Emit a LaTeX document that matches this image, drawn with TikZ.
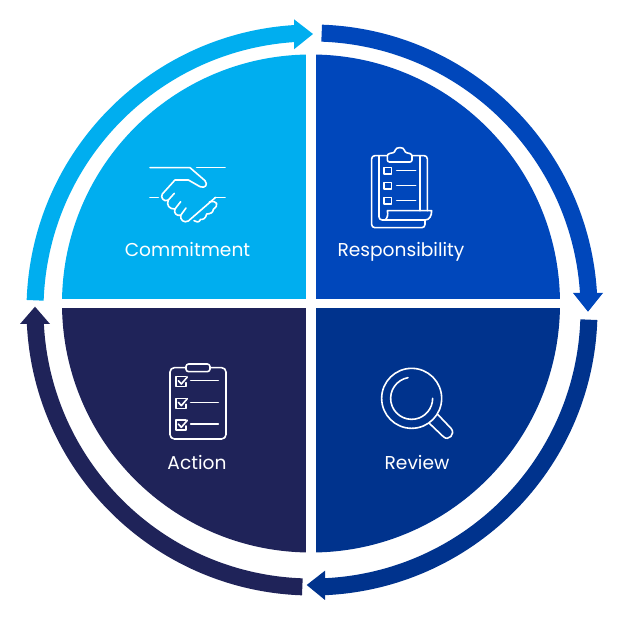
\documentclass[tikz,border=0pt]{standalone}
\usepackage{fontspec}
\setmainfont{Poppins}
\definecolor{commitcol}{HTML}{00AEEF}
\definecolor{respcol}{HTML}{0047BB}
\definecolor{reviewcol}{HTML}{00338D}
\definecolor{actioncol}{HTML}{1F2359}
\tikzset{
  ring/.style={line width=0.34cm},
  iconline/.style={draw=white, line width=0.032cm, line join=round, line cap=round, x=0.00667cm, y=-0.00667cm},
  caption/.style={text=white, font=\fontsize{10.6pt}{12pt}\selectfont, inner sep=0pt, anchor=base}
}
\begin{document}
\begin{tikzpicture}[x=0.02cm, y=0.02cm]
\useasboundingbox (0,0) rectangle (620,620);

% Outer arrows
\draw[ring, commitcol] (312,310) ++(178:277) arc (178:93:277);
\fill[commitcol] (313,586) -- (294,600.7) -- (294,570.7) -- cycle;
\draw[ring, respcol] (312,310) ++(88:277) arc (88:3:277);
\fill[respcol] (588,308.3) -- (603,327) -- (573,327) -- cycle;
\draw[ring, reviewcol] (312,310) ++(-2:277) arc (-2:-88:277);
\fill[reviewcol] (306.7,35) -- (325,49.3) -- (325,20) -- cycle;
\draw[ring, actioncol] (312,310) ++(-92:277) arc (-92:-177.5:277);
\fill[actioncol] (35,313.3) -- (20,296) -- (50,296) -- cycle;

% Quarters
\begin{scope}
  \clip (311,316.5) circle (249);
  \fill[commitcol] (50,321) rectangle (306,570);
  \fill[respcol] (316,321) rectangle (570,570);
  \fill[reviewcol] (316,312) rectangle (570,60);
  \fill[actioncol] (50,312) rectangle (306,60);
\end{scope}

% Labels
\node[caption] (commitment) at (187.5,363) {Commitment};
\node[caption] (responsibility) at (401,363) {Responsibility};
\node[caption] (review) at (417,151) {Review};
\node[caption] (action) at (197,151) {Action};

% Handshake
\begin{scope}[shift={(130,480)}, iconline]
  \draw (60,83) -- (180,83) -- (225,122) .. controls (235,135) and (225,146) .. (210,140)
        -- (175,120) -- (135,120) -- (97,162) .. controls (90,172) and (102,188) .. (115,180)
        -- (133,160); % upper hand
  \draw (200,83) -- (285,83);
  \draw (60,172) -- (85,172);
  \draw (255,172) -- (285,172);
  \draw (115,180) .. controls (108,195) and (118,208) .. (135,207) -- (152,185); % finger
  \draw (135,207) .. controls (130,220) and (140,228) .. (152,226) -- (168,204); % finger
  \draw (152,226) .. controls (150,240) and (162,250) .. (175,243) -- (257,172); % lower hand
  \draw (238,186) .. controls (262,180) and (268,195) .. (250,208) .. controls (250,218) and (240,222) .. (230,222)
        .. controls (228,235) and (218,240) .. (212,238) .. controls (208,248) and (198,248) .. (192,242); % knuckles
\end{scope}

% Clipboard with paper
\begin{scope}[shift={(330,480)}, iconline]
  \draw[rounded corners=1.8pt] (170,47) -- (125,47) -- (125,263) -- (285,263) -- (285,240);
  \draw[rounded corners=1.8pt] (147,47) -- (147,240) -- (175,240);
  \draw[rounded corners=1.8pt] (245,47) -- (292,47) -- (292,212);
  \draw (270,47) -- (270,212);
  \draw (172,212) -- (305,212) .. controls (305,228) and (298,240) .. (285,240) -- (165,240)
        .. controls (172,235) and (175,225) .. (172,212); % curl
  \draw[rounded corners=1.2pt] (172,66) -- (172,42) -- (195,37) .. controls (197,20) and (222,20) .. (224,37)
        -- (246,42) -- (246,66) -- cycle; % tab
  \foreach \ypos in {82,127,172} {
    \draw (162,\ypos) rectangle ++(23,20);
    \draw (200,\ypos+10) -- (257,\ypos+10);
  }
\end{scope}

% Magnifier
\begin{scope}[shift={(370,260)}, iconline]
  \draw (125,115) circle (90);
  \draw (114,53) arc (-100:-360:63);
  \draw (203,163) -- (243,205) .. controls (258,222) and (235,245) .. (220,230) -- (178,190);
\end{scope}

% Clipboard with ticks
\begin{scope}[shift={(150,265)}, iconline]
  \draw[rounded corners=2.5pt] (108,38) -- (60,38) -- (60,252) -- (228,252) -- (228,38) -- (180,38);
  \draw[rounded corners=1.5pt] (108,27) rectangle (180,50);
  \foreach \ypos in {65,130,195} {
    \draw (108,\ypos) -- (78,\ypos) -- (78,\ypos+30) -- (108,\ypos+30) -- (108,\ypos+18);
    \draw (85,\ypos+12) -- (94,\ypos+22) -- (112,\ypos+1);
    \draw (122,\ypos+12) -- (205,\ypos+12);
  }
\end{scope}

\end{tikzpicture}
\end{document}
